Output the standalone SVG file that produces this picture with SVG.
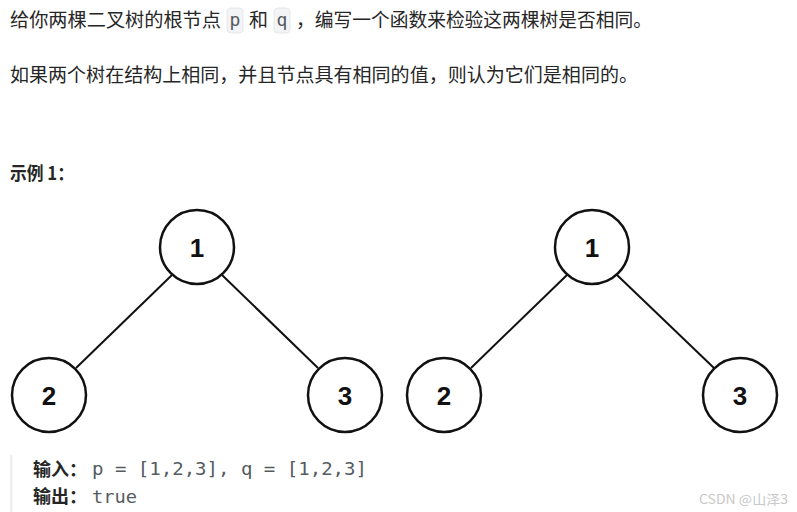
<svg xmlns="http://www.w3.org/2000/svg" width="797" height="512" viewBox="0 0 797 512">
<style>
.t{font-family:"Noto Sans CJK SC","Liberation Sans",sans-serif;font-size:19px;fill:#262626}
.b{font-family:"Noto Sans CJK SC","Liberation Sans",sans-serif;font-size:18px;font-weight:bold;fill:#262626}
.m{font-family:"DejaVu Sans Mono","Liberation Mono",monospace;font-size:18px;fill:#555b61}
.code{fill:#f3f4f5;stroke:#e6e7e8;stroke-width:1}
.node circle{fill:#fff;stroke:#111;stroke-width:2.5}
.node text{font-family:"Liberation Sans",Arial,sans-serif;font-size:26px;font-weight:bold;fill:#111;text-anchor:middle}
.edge{stroke:#111;stroke-width:2;fill:none}
</style>
<rect width="797" height="512" fill="#fff"/>
<g id="text">
<text class="t" x="10" y="27" textLength="211" lengthAdjust="spacingAndGlyphs">给你两棵二叉树的根节点</text>
<rect class="code" x="227" y="8" width="16" height="25" rx="4"/>
<text class="m" x="235" y="26" text-anchor="middle">p</text>
<text class="t" x="249" y="27">和</text>
<rect class="code" x="274" y="8" width="16" height="25" rx="4"/>
<text class="m" x="282" y="26" text-anchor="middle">q</text>
<text class="t" x="296" y="27" textLength="356" lengthAdjust="spacingAndGlyphs">，编写一个函数来检验这两棵树是否相同。</text>
<text class="t" x="10" y="82" textLength="628" lengthAdjust="spacingAndGlyphs">如果两个树在结构上相同，并且节点具有相同的值，则认为它们是相同的。</text>
<text class="b" x="10" y="180" textLength="64" lengthAdjust="spacingAndGlyphs">示例 1：</text>
<rect x="10" y="455" width="2.5" height="57" fill="#eeeeee"/>
<text class="b" x="33" y="476" textLength="54" lengthAdjust="spacingAndGlyphs">输入：</text>
<text class="m" x="92" y="475" textLength="275" lengthAdjust="spacingAndGlyphs">p = [1,2,3], q = [1,2,3]</text>
<text class="b" x="33" y="503" textLength="54" lengthAdjust="spacingAndGlyphs">输出：</text>
<text class="m" x="92" y="503" textLength="45" lengthAdjust="spacingAndGlyphs">true</text>
<text x="699" y="504" font-family="Noto Sans CJK SC, Liberation Sans, sans-serif" font-size="13" fill="#c8c8c8" textLength="89" lengthAdjust="spacingAndGlyphs">CSDN @山泽3</text>
</g>
<g id="connectors">
<line class="edge" x1="172" y1="275" x2="76" y2="368"/>
<line class="edge" x1="222" y1="275" x2="318" y2="368"/>
<line class="edge" x1="567" y1="275" x2="471" y2="368"/>
<line class="edge" x1="617" y1="275" x2="714" y2="368"/>
</g>
<g id="t1n1" class="node"><circle cx="197" cy="247" r="37"/><text x="197" y="257">1</text></g>
<g id="t1n2" class="node"><circle cx="49" cy="395" r="37"/><text x="49" y="405">2</text></g>
<g id="t1n3" class="node"><circle cx="345" cy="395" r="37"/><text x="345" y="405">3</text></g>
<g id="t2n1" class="node"><circle cx="592" cy="247" r="37"/><text x="592" y="257">1</text></g>
<g id="t2n2" class="node"><circle cx="444" cy="395" r="37"/><text x="444" y="405">2</text></g>
<g id="t2n3" class="node"><circle cx="740" cy="395" r="37"/><text x="740" y="405">3</text></g>
</svg>
